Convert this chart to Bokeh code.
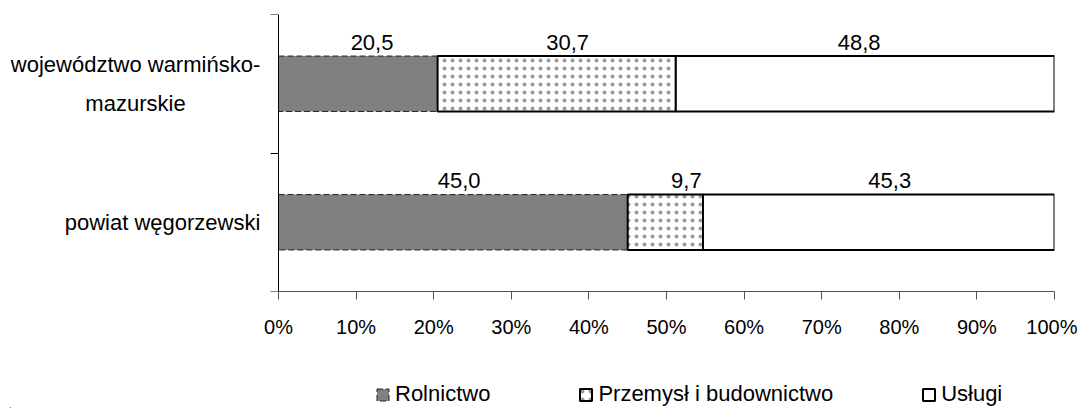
from bokeh.plotting import figure
from bokeh.layouts import column
from bokeh.models import (ColumnDataSource, FixedTicker, Legend, LegendItem,
                          PrintfTickFormatter, LinearAxis, Range1d)
from bokeh.core.properties import value
from bokeh.embed import file_html
from bokeh.resources import INLINE

# ---- data ----
categories = ["powiat węgorzewski", "województwo warmińsko-\nmazurskie"]
series_names = ["Rolnictwo", "Przemysł i budownictwo", "Usługi"]
rolnictwo = [45.0, 20.5]
przemysl = [9.7, 30.7]
uslugi = [45.3, 48.8]
value_labels = [["45,0", "20,5"], ["9,7", "30,7"], ["45,3", "48,8"]]
x_ticks = [0, 10, 20, 30, 40, 50, 60, 70, 80, 90, 100]
y_bounds = [0, 1, 2]

# ---- layout / style (screen px) ----
FONT = "Liberation Sans"
W = 1077
H_MAIN, H_LEG = 345, 63
TOP, BOTTOM_BORDER = 14, 54
FRAME_LEFT = 10      # frame starts here; category labels live inside it
ZERO_PX = 278        # where 0% sits
RIGHT_PX = 1054      # where 100% sits
LABEL_GAP = 14       # value label centre above bar top
label_dx = [[6, 14], [21, 11], [11, -6]]   # nudges of the value labels
cat_dx = [-116, -143]                        # centres of category label blocks

x_start = -(ZERO_PX - FRAME_LEFT) / (RIGHT_PX - ZERO_PX) * 100
px_per_unit = (H_MAIN - BOTTOM_BORDER - TOP) / 2.0

p = figure(width=W, height=H_MAIN, x_range=Range1d(x_start, 100), y_range=Range1d(0, 2),
           output_backend="svg", toolbar_location=None, y_axis_location=None,
           min_border_left=FRAME_LEFT, min_border_right=W - RIGHT_PX,
           min_border_top=TOP, min_border_bottom=BOTTOM_BORDER)
p.outline_line_color = None
p.grid.visible = False
p.background_fill_color = "white"

ypos = [i + 0.5 for i in range(len(categories))]
series = [rolnictwo, przemysl, uslugi]
styles = [
    dict(fill_color="#808080", line_color="#222222", line_width=1, line_dash="6 3"),
    dict(fill_color="white", line_color="black", line_width=2, hatch_pattern="dot",
         hatch_scale=8, hatch_color="#9c9c9c", hatch_weight=0.6),
    dict(fill_color="white", line_color="black", line_width=2),
]

# legend strip below the chart (its ranges keep the swatch renderers out of view)
pl = figure(width=W, height=H_LEG, output_backend="svg", toolbar_location=None,
            x_range=Range1d(1000, 1001), y_range=Range1d(1000, 1001),
            x_axis_location=None, y_axis_location=None, min_border=0)
pl.outline_line_color = None
pl.grid.visible = False

left = [0.0] * len(categories)
items = []
label_x, label_y, label_t, label_off = [], [], [], []
for idx, (s, vals, st) in enumerate(zip(series_names, series, styles)):
    right = [l + v for l, v in zip(left, vals)]
    src = ColumnDataSource(dict(y=ypos, left=left, right=right))
    p.hbar(y="y", left="left", right="right", height=0.4, source=src, **st)
    r2 = pl.hbar(y="y", left="left", right="right", height=0.4, source=src, **st)
    items.append(LegendItem(label=s, renderers=[r2]))
    for i in range(len(categories)):
        label_x.append((left[i] + right[i]) / 2)
        label_y.append(ypos[i] + 0.2 + LABEL_GAP / px_per_unit)
        label_t.append(value_labels[idx][i])
        label_off.append(label_dx[idx][i])
    left = right

lsrc = ColumnDataSource(dict(x=label_x, y=label_y, t=label_t, dx=label_off))
p.text(x="x", y="y", text="t", x_offset="dx", source=lsrc,
       text_align="center", text_baseline="middle",
       text_font=value(FONT), text_font_size="22px", text_color="black")

# category labels (left of the value axis)
csrc = ColumnDataSource(dict(x=[0, 0], y=ypos, t=categories, dx=cat_dx))
p.text(x="x", y="y", text="t", x_offset="dx", source=csrc,
       text_align="center", text_baseline="middle", text_line_height=1.55,
       text_font=value(FONT), text_font_size="22px", text_color="black")

# x axis
xa = p.xaxis[0]
xa.ticker = FixedTicker(ticks=x_ticks)
xa.bounds = (0, 100)
xa.formatter = PrintfTickFormatter(format="%d%%")
xa.major_tick_out = 8
xa.major_tick_in = 0
xa.minor_tick_out = 0
xa.minor_tick_in = 0
xa.axis_line_color = "#555555"
xa.major_tick_line_color = "#555555"
xa.major_label_text_font = FONT
xa.major_label_text_font_size = "20px"
xa.major_label_text_color = "black"
xa.major_label_standoff = 16

# y axis at 0 with ticks between categories
ya = LinearAxis(fixed_location=0, ticker=FixedTicker(ticks=y_bounds),
                major_tick_out=8, major_tick_in=0, minor_tick_out=0, minor_tick_in=0,
                major_tick_line_color="black", axis_line_color="black",
                major_label_overrides={t: "" for t in y_bounds}, major_label_standoff=0)
p.add_layout(ya, "left")

legend = Legend(items=items, orientation="horizontal", location=(ZERO_PX + 87, 1),
                glyph_width=15, glyph_height=15, label_standoff=5, spacing=88,
                padding=0, margin=0, border_line_color=None, background_fill_alpha=0,
                label_text_font=FONT, label_text_font_size="22px", label_text_color="black")
pl.add_layout(legend, "center")

layout = column(p, pl, spacing=0)
open("out.html", "w").write(file_html(layout, INLINE))
